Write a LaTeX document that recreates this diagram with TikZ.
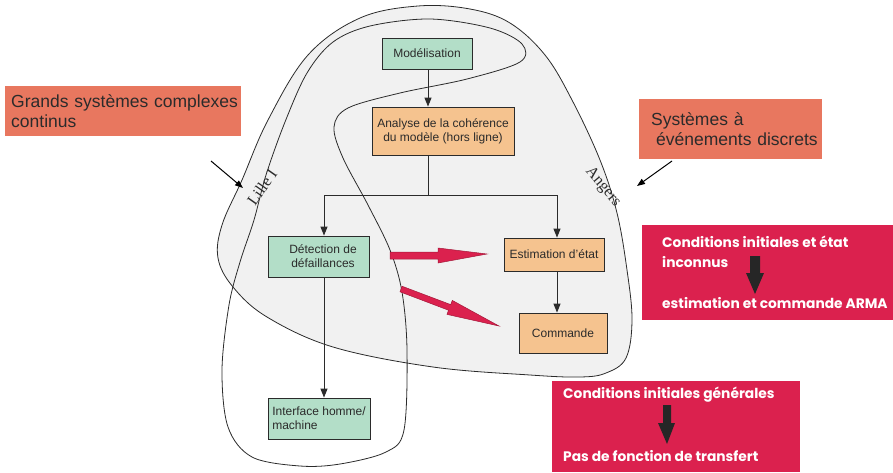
\documentclass[tikz,border=0pt]{standalone}
\usepackage{fontspec}
\setmainfont{Liberation Sans}
\newfontfamily\siteface{Liberation Serif}
\newfontfamily\noteface{Poppins}
\usetikzlibrary{arrows.meta,calc}

\definecolor{blobgray}{HTML}{F1F1F1}
\definecolor{mint}{HTML}{B3DEC8}
\definecolor{apricot}{HTML}{F5C38F}
\definecolor{salmon}{HTML}{E8775F}
\definecolor{crimson}{HTML}{DB214E}
\definecolor{ink}{HTML}{2B2B2B}

\begin{document}
\begin{tikzpicture}[x=1pt,y=-1pt,
  stepbox/.style={draw=ink, line width=0.8pt, inner sep=0pt, align=center,
    text=ink, font=\fontsize{12}{14}\selectfont},
  greenbox/.style={stepbox, fill=mint},
  orangebox/.style={stepbox, fill=apricot},
  flowarrow/.style={draw=ink, line width=1pt, -{Triangle[length=9pt,width=7pt]}},
  flowline/.style={draw=ink, line width=1pt},
  tagbox/.style={fill=salmon, anchor=north west, inner ysep=0pt, align=left,
    text=ink, font=\fontsize{17.5}{20}\selectfont},
  notebox/.style={fill=crimson, anchor=north west, inner sep=0pt},
  noteline/.style={anchor=base west, inner sep=0pt, text=white,
    font=\noteface\bfseries\fontsize{13.8}{15}\selectfont},
  pointer/.style={draw=black, line width=1pt, -{Triangle[length=8pt,width=6pt]}},
  bigred/.style={fill=crimson, draw=crimson!75!black, line width=0.5pt},
  blockarrow/.style={fill=black!85},
  region/.style={draw=ink, line width=0.8pt},
  sitename/.style={font=\siteface\fontsize{16}{16}\selectfont, text=ink, inner sep=0pt}
]
\useasboundingbox (0,0) rectangle (893,472);

% Angers region (shaded)
\path[region, fill=blobgray] plot[smooth cycle, tension=0.6] coordinates {
  (418,6) (470,9) (510,23) (545,55) (572,100) (600,160) (617,213)
  (627,270) (632,320) (626,358) (606,373) (580,377) (530,375)
  (433,367) (333,347) (267,317) (233,287) (218,258) (222,225)
  (242,180) (268,120) (308,55) (360,18)};

% Lille I region (outline only)
\path[region] plot[smooth cycle, tension=0.55] coordinates {
  (430,19) (490,28) (522,44) (520,62) (467,79) (400,93) (348,108)
  (334,127) (343,158) (368,205) (390,250) (402,292) (407,350)
  (404,430) (386,452) (340,464) (300,466) (252,457) (228,427)
  (222,370) (229,305) (240,262) (254,220) (266,175) (285,122)
  (307,73) (333,42) (370,26)};

\node[sitename, rotate=55] (lille) at (262,187) {Lille I};
\node[sitename, rotate=-50] (angers) at (603,187) {Angers};

% flow of the method
\node[greenbox, minimum width=90pt, minimum height=31pt] (mod) at (427,53.5) {Modélisation};
\node[orangebox, minimum width=142pt, minimum height=48pt] (ana) at (443,131)
  {Analyse de la cohérence\\du modèle (hors ligne)};
\node[greenbox, minimum width=101pt, minimum height=41pt] (det) at (318.5,256.5)
  {\hspace*{9pt}Détection de\\\hspace*{9pt}défaillances};
\node[orangebox, minimum width=100pt, minimum height=33pt] (est) at (554,254.5) {Estimation d'état};
\node[orangebox, minimum width=88pt, minimum height=40pt] (com) at (563,333) {Commande};
\node[greenbox, minimum width=102pt, minimum height=41pt, align=left] (ihm) at (319,418.5)
  {Interface homme/\\machine};

\coordinate (split) at (428,195);
\draw[flowarrow] (mod.south -| split) -- (ana.north -| split);
\draw[flowline] (ana.south -| split) -- (split);
\draw[flowarrow] (split) -| ($(det.north)+(5.5,0)$);
\draw[flowarrow] (split) -| ($(est.north)+(3,0)$);
\draw[flowarrow] ($(est.south)+(3,0)$) -- ($(com.north)+(-6,0)$);
\draw[flowarrow] ($(det.south)+(5.5,0)$) -- ($(ihm.north)+(5,0)$);

% wide red arrows from detection towards estimation and control
\draw[bigred] (390,252) -- (438,252) -- (438,248) -- (487,254) -- (438,263)
  -- (438,259) -- (390,259) -- cycle;
\draw[bigred] (402,286.2) -- (450.7,304.6) -- (452.3,300.4) -- (499,326)
  -- (447,314.4) -- (448.5,310.2) -- (400,291.8) -- cycle;

% domain tags
\node[tagbox, inner xsep=6pt, text width=224pt, minimum height=50pt] (cont) at (5,86)
  {\mbox{Grands systèmes complexes}\\continus};
\node[tagbox, inner xsep=3pt, text width=177pt, minimum height=60pt] (sed) at (639,99)
  {\hspace*{9pt}Systèmes à\\\mbox{\hspace*{14pt}événements discrets}};

\coordinate (contTip) at (243,188);
\coordinate (contTail) at (211,161);
\coordinate (sedTip) at (637,186);
\coordinate (sedTail) at (672,161);
\draw[pointer] (contTail) -- (contTip);
\draw[pointer] (sedTail) -- (sedTip);

% notes
\node[notebox, minimum width=251pt, minimum height=95pt] (noteA) at (642,225) {};
\node[noteline] (a1) at ($(noteA.north west)+(20,22)$) {Conditions initiales et état};
\node[noteline] (a2) at ($(noteA.north west)+(20,42)$) {inconnus};
\node[noteline] (a3) at ($(noteA.north west)+(20,83)$) {estimation et commande ARMA};
\fill[blockarrow] (750,256) -- (760,256) -- (760,273) -- (764,273) -- (755,294)
  -- (746,273) -- (750,273) -- cycle;

\node[notebox, minimum width=248pt, minimum height=91pt] (noteB) at (552,381) {};
\node[noteline] (b1) at ($(noteB.north west)+(11,17)$) {Conditions initiales générales};
\node[noteline] (b2) at ($(noteB.north west)+(11,80)$) {Pas de fonction de transfert};
\fill[blockarrow] (663,405) -- (671,405) -- (671,423) -- (675,423) -- (667,444)
  -- (658,423) -- (663,423) -- cycle;
\end{tikzpicture}
\end{document}
